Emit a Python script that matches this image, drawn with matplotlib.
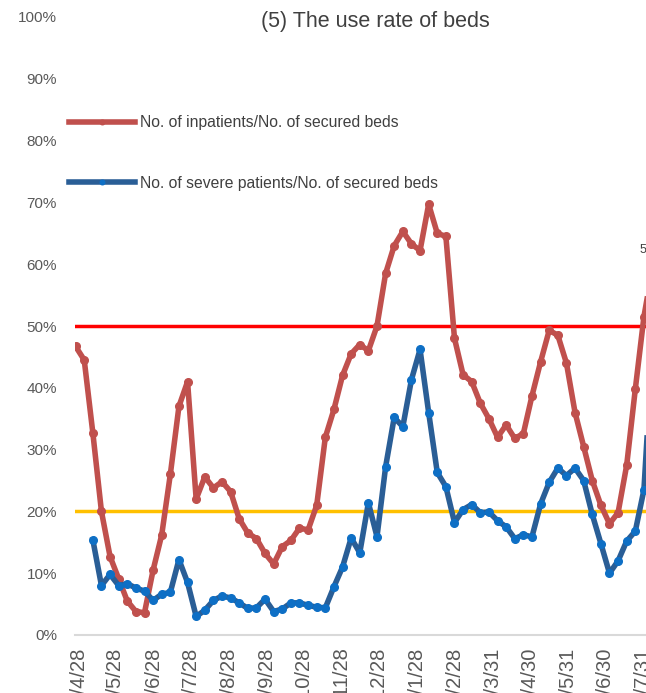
import numpy as np
import pandas as pd
import matplotlib
matplotlib.use('Agg')
import matplotlib.pyplot as plt
from matplotlib import font_manager

# weekly values, %
first_week = '2020-04-26'
inpatients = [46.7, 44.5, 32.7, 20.0, 12.7, 9.1, 5.5, 3.8, 3.6, 10.5,
              16.2, 26.0, 37.0, 41.0, 22.0, 25.6, 23.8, 24.8, 23.2, 18.8,
              16.5, 15.6, 13.2, 11.5, 14.3, 15.3, 17.3, 17.0, 21.0, 32.0,
              36.5, 42.0, 45.5, 47.0, 46.0, 50.0, 58.5, 63.0, 65.3, 63.3,
              62.2, 69.7, 65.0, 64.5, 48.0, 42.1, 41.0, 37.5, 35.0, 32.0,
              34.0, 31.8, 32.6, 38.7, 44.2, 49.3, 48.5, 44.0, 36.0, 30.5,
              25.0, 21.0, 18.0, 19.8, 27.5, 39.8, 51.5, 59.5]
severe = [np.nan, np.nan,
          15.4, 8.0, 9.8, 8.0, 8.3, 7.6, 7.1, 5.6, 6.6, 6.9,
          12.2, 8.5, 3.0, 4.0, 5.6, 6.3, 6.0, 5.2, 4.3, 4.4,
          5.8, 3.8, 4.2, 5.2, 5.2, 4.8, 4.5, 4.4, 7.8, 11.0,
          15.7, 13.3, 21.4, 15.9, 27.2, 35.2, 33.7, 41.3, 46.2, 36.0,
          26.3, 24.0, 18.2, 20.3, 21.1, 19.8, 19.9, 18.5, 17.5, 15.6,
          16.2, 15.9, 21.2, 24.7, 27.0, 25.8, 27.0, 25.0, 19.5, 14.8,
          10.0, 12.0, 15.2, 16.8, 23.5, 47.0]
last_label = '59%'

tick_dates = ['2020-04-28', '2020-05-28', '2020-06-28', '2020-07-28', '2020-08-28',
              '2020-09-28', '2020-10-28', '2020-11-28', '2020-12-28', '2021-01-28',
              '2021-02-28', '2021-03-31', '2021-04-30', '2021-05-31', '2021-06-30',
              '2021-07-31']
tick_labels = ['2020/4/28', '2020/5/28', '2020/6/28', '2020/7/28', '2020/8/28',
               '2020/9/28', '2020/10/28', '2020/11/28', '2020/12/28', '2021/1/28',
               '2021/2/28', '2021/3/31', '2021/4/30', '2021/5/31', '2021/6/30',
               '2021/7/31']

weeks = pd.date_range(first_week, periods=len(inpatients), freq='7D')


def has_font(name):
    try:
        font_manager.findfont(name, fallback_to_default=False)
        return True
    except Exception:
        return False


narrow = 'Liberation Sans Narrow' if has_font('Liberation Sans Narrow') else 'Liberation Sans'
plt.rcParams['font.family'] = ['Liberation Sans', 'DejaVu Sans']

fig = plt.figure(figsize=(6.46, 6.93), dpi=100)
ax = fig.add_axes([75 / 646, 58 / 693, 580 / 646, 618 / 693])

ax.axhline(50, color='#ff0000', lw=2.5, zorder=2)
ax.axhline(20, color='#ffc000', lw=2.5, zorder=2)

ax.plot(weeks, inpatients, color='#c0504d', lw=4.0, marker='o', ms=5.5,
        label='No. of inpatients/No. of secured beds', zorder=3)
ax.plot(weeks, severe, color='#2a5e96', lw=4.0, marker='o', ms=5.5,
        mfc='#0e6fc5', mec='#0e6fc5',
        label='No. of severe patients/No. of secured beds', zorder=4)

ax.annotate(last_label, (weeks[-1], inpatients[-1]), xytext=(0, 8),
            textcoords='offset points', ha='center', va='bottom',
            fontsize=9, color='#404040')

ax.set_xlim(pd.Timestamp('2020-04-25 12:00'), pd.Timestamp('2021-08-10'))
ax.set_ylim(0, 100)
ax.set_yticks(np.arange(0, 101, 10))
ax.set_yticklabels([f'{v}%' for v in range(0, 101, 10)], family=narrow,
                   fontsize=11, color='#595959')
ax.set_xticks(pd.to_datetime(tick_dates))
ax.set_xticklabels(tick_labels, rotation=90, family='Liberation Sans',
                   fontsize=14.5, color='#595959')
ax.tick_params(axis='both', length=0)
ax.tick_params(axis='y', pad=13)
ax.tick_params(axis='x', pad=9)

for s in ['top', 'right', 'left']:
    ax.spines[s].set_visible(False)
ax.spines['bottom'].set_color('#d9d9d9')
ax.spines['bottom'].set_linewidth(1.5)

fig.text(375 / 646, 1 - 22 / 693, '(5) The use rate of beds', ha='center',
         va='center', fontsize=15.5, color='#404040')

leg = ax.legend(loc='upper left', bbox_to_anchor=(55 / 646, 1 - 101 / 693),
                bbox_transform=fig.transFigure, frameon=False, fontsize=11.3,
                handlelength=4.2, handletextpad=0.3, labelspacing=2.9,
                markerscale=0.6, numpoints=1)
for t in leg.get_texts():
    t.set_color('#404040')

fig.savefig('out.png', dpi=100)
